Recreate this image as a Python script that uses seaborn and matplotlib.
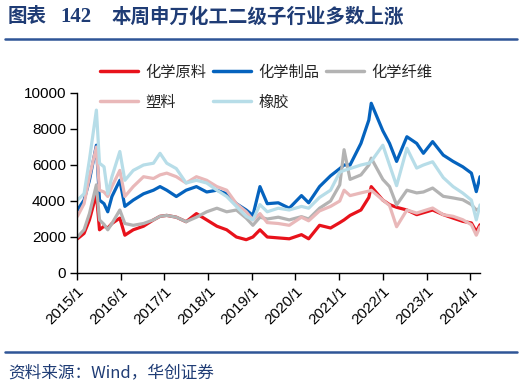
import pandas as pd
import numpy as np
import matplotlib
matplotlib.use('Agg')
import matplotlib.pyplot as plt
import seaborn as sns

dates = ['2015-01-05', '2015-03-01', '2015-04-15', '2015-06-12', '2015-07-08', '2015-08-15',
         '2015-09-15', '2015-10-20', '2015-12-25', '2016-02-05', '2016-04-15', '2016-07-10',
         '2016-10-01', '2016-11-25', '2017-01-20', '2017-04-10', '2017-07-01', '2017-09-25',
         '2017-12-20', '2018-03-15', '2018-06-05', '2018-08-25', '2018-11-15', '2019-01-10',
         '2019-03-10', '2019-05-10', '2019-08-10', '2019-11-10', '2020-02-20', '2020-04-20',
         '2020-07-20', '2020-10-20', '2021-01-05', '2021-02-10', '2021-04-01', '2021-07-01',
         '2021-09-05', '2021-09-25', '2021-12-31', '2022-02-25', '2022-04-25', '2022-07-20',
         '2022-10-10', '2022-12-05', '2023-02-20', '2023-05-20', '2023-08-10', '2023-10-30',
         '2024-01-10', '2024-02-20', '2024-03-22']

chem_raw = [1900, 2200, 2950, 4400, 2400, 2600, 2500, 2750, 3050, 2100, 2400, 2600,
            2950, 3150, 3200, 3100, 2850, 3300, 2950, 2600, 2400, 2000, 1850, 2000,
            2400, 2000, 1950, 1900, 2130, 1900, 2650, 2500, 2800, 2950, 3200, 3500,
            4200, 4800, 4050, 3800, 3650, 3500, 3240, 3350, 3500, 3240, 3050, 2870,
            2780, 2300, 2680]
chem_prod = [3500, 4050, 5150, 7100, 4050, 3850, 3400, 4250, 5150, 3700, 4050, 4400,
             4600, 4800, 4600, 4250, 4600, 4800, 4500, 4600, 4400, 3850, 3500, 3200,
             4800, 3850, 3900, 3600, 4300, 3900, 4800, 5400, 5800, 6000, 6000, 7200,
             8500, 9430, 7900, 7200, 6200, 7570, 7200, 6650, 7300, 6550, 6200, 5900,
             5550, 4520, 5350]
chem_fiber = [2000, 2400, 3300, 4900, 2950, 2700, 2400, 2750, 3500, 2750, 2650, 2750,
              2950, 3150, 3200, 3100, 2850, 3100, 3400, 3600, 3400, 3500, 3050, 2650,
              3100, 3000, 3100, 2950, 3130, 3000, 3600, 4000, 4900, 6850, 5200, 5450,
              6000, 6380, 5200, 4800, 3780, 4600, 4450, 4500, 4720, 4260, 4170, 4070,
              3800, 3500, 3600]
plastic = [3150, 3850, 5350, 7000, 4600, 4500, 4250, 4800, 5700, 4250, 4800, 5350,
           5250, 5450, 5550, 5350, 5000, 5350, 5150, 4800, 4600, 3850, 3400, 2950,
           3300, 2800, 2750, 2650, 3100, 2900, 3450, 3700, 4000, 4600, 4300, 4450,
           4550, 4600, 4050, 3750, 2570, 3500, 3330, 3450, 3610, 3240, 3150, 2960,
           2680, 2100, 2570]
rubber = [4050, 4400, 6300, 9050, 6100, 5900, 4400, 5350, 6750, 5150, 5700, 6000,
          6100, 6650, 6100, 5800, 5000, 5150, 5000, 4600, 4250, 3700, 3150, 2950,
          3800, 3400, 3600, 3500, 3700, 3600, 4200, 4600, 5600, 5700, 5800, 6000,
          6100, 6200, 7100, 6000, 4850, 6930, 5830, 6000, 6180, 5300, 4800, 4440,
          4050, 2950, 3780]

names = ['化学原料', '化学制品', '化学纤维', '塑料', '橡胶']
series = [chem_raw, chem_prod, chem_fiber, plastic, rubber]
colors = ['#E8121B', '#0563BE', '#B3B3B3', '#E9B8B9', '#B7DDE8']
year_ticks = [f'{y}/1' for y in range(2015, 2025)]

df = pd.concat([pd.DataFrame({'date': pd.to_datetime(dates), 'value': v, 'name': n})
                for n, v in zip(names, series)], ignore_index=True)

sns.set_theme(style='ticks')
cjk = ['Noto Sans CJK SC', 'DejaVu Sans']
latin = ['Liberation Sans', 'DejaVu Sans']
plt.rcParams['font.family'] = latin

fig = plt.figure(figsize=(5.24, 3.87), dpi=100)
ax = fig.add_axes([77 / 524, 1 - 273 / 387, (480 - 77) / 524, 180 / 387])

sns.lineplot(data=df, x='date', y='value', hue='name', hue_order=names,
             palette=colors, linewidth=2.3, ax=ax, legend=False)

ax.set_ylim(0, 10000)
ax.set_yticks(range(0, 10001, 2000))
ax.set_xlim(pd.Timestamp('2015-01-01'), pd.Timestamp('2024-03-22'))
ax.set_xticks(pd.to_datetime([f'{y}-01-01' for y in range(2015, 2025)]))
ax.set_xticklabels(year_ticks, rotation=45, ha='right', rotation_mode='anchor')
ax.set_xlabel('')
ax.set_ylabel('')
ax.tick_params(axis='both', labelsize=11, length=5, width=1, color='black',
               labelcolor='black', pad=3)
for s in ['top', 'right']:
    ax.spines[s].set_visible(False)
for s in ['left', 'bottom']:
    ax.spines[s].set_color('black')
    ax.spines[s].set_linewidth(1)

# legend filled row by row: 3 on top, 2 below
order = [0, 3, 1, 4, 2]
handles = [plt.Line2D([], [], color=colors[i], linewidth=2.5) for i in order]
labels = [names[i] for i in order]
fig.legend(handles, labels, loc='upper left', bbox_to_anchor=(86 / 524, 1 - 50 / 387),
           ncol=3, frameon=False, handlelength=2.5, handletextpad=0.5,
           columnspacing=0.4, labelspacing=0.85, prop={'family': cjk, 'size': 11})

title_color = '#1F3C75'
fig.text(8 / 524, 1 - 17 / 387, '图表', family=cjk, fontsize=14, fontweight='bold',
         color=title_color, va='center')
fig.text(60 / 524, 1 - 17 / 387, '142', family=['Liberation Serif', 'DejaVu Serif'],
         fontsize=15, fontweight='bold', color=title_color, va='center')
fig.text(112 / 524, 1 - 17 / 387, '本周申万化工二级子行业多数上涨', family=cjk, fontsize=14,
         fontweight='bold', color=title_color, va='center')

rule_color = '#2F5597'
fig.add_artist(plt.Line2D([5 / 524, 517 / 524], [1 - 39 / 387] * 2, color=rule_color,
                          linewidth=1.8, transform=fig.transFigure))
fig.add_artist(plt.Line2D([5 / 524, 517 / 524], [1 - 352 / 387] * 2, color=rule_color,
                          linewidth=1.8, transform=fig.transFigure))
fig.text(8 / 524, 1 - 373 / 387, '资料来源：Wind，华创证券', family=cjk, fontsize=12,
         color=title_color, va='center')

fig.savefig('out.png', dpi=100)
